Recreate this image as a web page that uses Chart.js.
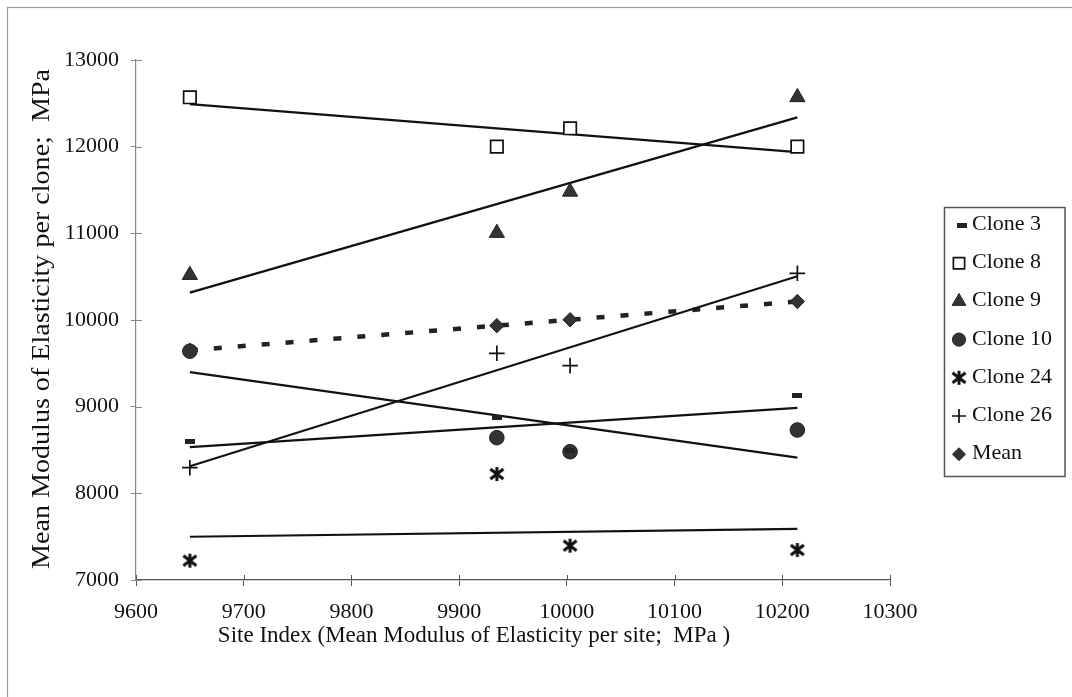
<!DOCTYPE html>
<html>
<head>
<meta charset="utf-8">
<script src="https://cdn.jsdelivr.net/npm/chart.js@4/dist/chart.umd.min.js"></script>
<style>
  body { margin: 0; background: #fff; }
  #wrap { width: 1072px; height: 697px; }
</style>
</head>
<body>
<div id="wrap"><canvas id="chart"></canvas></div>
<script>
// Site index (mean MOE per site, MPa) on the x axis
const siteIndex = [9650, 9935, 10003, 10214];

// Mean MOE per clone at each site, MPa
const clone3 = [8596, 8873, 8500, 9127];
const clone8 = [12570, 12000, 12212, 12000];
const clone9 = [10519, 11004, 11480, 12570];
const clone10 = [9640, 8642, 8480, 8731];
const clone24 = [7223, 8223, 7396, 7346];
const clone26 = [8296, 9616, 9473, 10539];
const meanMoe = [9650, 9935, 10003, 10214];

const xTicks = [9600, 9700, 9800, 9900, 10000, 10100, 10200, 10300];
const yTicks = [7000, 8000, 9000, 10000, 11000, 12000, 13000];

const FONT = '"Liberation Serif", "Times New Roman", serif';

// Small canvas markers for the styles Chart.js doesn't have
function dashMarker() {
    const c = document.createElement('canvas');
    c.width = 10; c.height = 5;
    const g = c.getContext('2d');
    g.fillStyle = '#222';
    g.fillRect(0, 0, 10, 5);
    return c;
}

function asteriskMarker() {
    const c = document.createElement('canvas');
    c.width = 16; c.height = 16;
    const g = c.getContext('2d');
    g.strokeStyle = '#111';
    g.lineWidth = 3;
    g.beginPath();
    g.moveTo(1.5, 3); g.lineTo(14.5, 13);
    g.moveTo(14.5, 3); g.lineTo(1.5, 13);
    g.moveTo(8, 1); g.lineTo(8, 15);
    g.stroke();
    return c;
}

const series = [
    { label: 'Clone 3', ys: clone3, style: dashMarker(), radius: 5, bg: '#222', border: '#222', bw: 0 },
    { label: 'Clone 8', ys: clone8, style: 'rect', radius: 8.8, bg: '#fff', border: '#111', bw: 1.7 },
    { label: 'Clone 9', ys: clone9, style: 'triangle', radius: 8.8, bg: '#333', border: '#222', bw: 1 },
    { label: 'Clone 10', ys: clone10, style: 'circle', radius: 7.3, bg: '#333', border: '#222', bw: 1 },
    { label: 'Clone 24', ys: clone24, style: asteriskMarker(), radius: 8, bg: '#111', border: '#111', bw: 0 },
    { label: 'Clone 26', ys: clone26, style: 'cross', radius: 7.8, bg: '#111', border: '#111', bw: 1.7 },
    { label: 'Mean', ys: meanMoe, style: 'rectRot', radius: 7.2, bg: '#333', border: '#222', bw: 1 }
];

// least squares line over the site range
function linearFit(xs, ys) {
    const n = xs.length;
    const mx = xs.reduce((a, b) => a + b, 0) / n;
    const my = ys.reduce((a, b) => a + b, 0) / n;
    let sxy = 0, sxx = 0;
    for (let i = 0; i < n; i++) {
        sxy += (xs[i] - mx) * (ys[i] - my);
        sxx += (xs[i] - mx) * (xs[i] - mx);
    }
    const slope = sxy / sxx;
    const x0 = Math.min(...xs), x1 = Math.max(...xs);
    return [
        { x: x0, y: my + slope * (x0 - mx) },
        { x: x1, y: my + slope * (x1 - mx) }
    ];
}

// the mean sits underneath the clone markers
const pointSets = series.map(s => ({
    label: s.label,
    data: siteIndex.map((x, i) => ({ x: x, y: s.ys[i] })),
    showLine: false,
    pointStyle: s.style,
    pointRadius: s.radius,
    pointHoverRadius: s.radius,
    pointBackgroundColor: s.bg,
    pointBorderColor: s.border,
    pointBorderWidth: s.bw,
    order: s.label === 'Mean' ? 2 : 1
}));

const trendSets = series.map(s => ({
    label: s.label + ' trend',
    data: linearFit(siteIndex, s.ys),
    showLine: true,
    pointRadius: 0,
    borderColor: s.label === 'Mean' ? '#222' : '#111',
    borderWidth: s.label === 'Mean' ? 4.5 : 2.2,
    borderDash: s.label === 'Mean' ? [8, 16] : [],
    order: 3
}));

// white page, outer frame, crossing ticks, legend box and axis titles
const decorations = {
    id: 'decorations',
    beforeDraw(chart) {
        const ctx = chart.ctx;
        ctx.save();
        ctx.fillStyle = '#fff';
        ctx.fillRect(0, 0, chart.width, chart.height);
        ctx.strokeStyle = '#9a9a9a';
        ctx.lineWidth = 1.2;
        ctx.strokeRect(7.5, 7.5, chart.width + 20, chart.height + 20);
        ctx.restore();
    },
    afterDraw(chart) {
        const ctx = chart.ctx;
        const xs = chart.scales.x, ys = chart.scales.y;
        const area = chart.chartArea;
        ctx.save();

        // inner half of the cross tick marks
        ctx.lineWidth = 1;
        ctx.strokeStyle = '#555';
        xTicks.forEach(v => {
            const px = Math.round(xs.getPixelForValue(v)) + 0.5;
            ctx.beginPath();
            ctx.moveTo(px, area.bottom);
            ctx.lineTo(px, area.bottom - 5);
            ctx.stroke();
        });
        ctx.strokeStyle = '#888';
        yTicks.forEach(v => {
            const py = Math.round(ys.getPixelForValue(v)) + 0.5;
            ctx.beginPath();
            ctx.moveTo(area.left, py);
            ctx.lineTo(area.left + 6, py);
            ctx.stroke();
        });

        // legend
        const lx = 944.5, ly = 207.5, lw = 120.5, lh = 269;
        ctx.fillStyle = '#fff';
        ctx.fillRect(lx, ly, lw, lh);
        ctx.strokeStyle = '#555';
        ctx.lineWidth = 1.5;
        ctx.strokeRect(lx, ly, lw, lh);
        ctx.font = '22px ' + FONT;
        ctx.textAlign = 'left';
        ctx.textBaseline = 'alphabetic';
        series.forEach((s, i) => {
            const base = 230 + i * 38.2;
            const mx = s.label === 'Clone 3' ? 962 : 959;
            ctx.fillStyle = s.bg;
            ctx.strokeStyle = s.border;
            ctx.lineWidth = s.bw;
            if (Chart.helpers && Chart.helpers.drawPoint) {
                Chart.helpers.drawPoint(ctx, {
                    pointStyle: s.style, radius: s.radius * 0.9, rotation: 0, borderWidth: s.bw
                }, mx, base - 5);
            }
            ctx.fillStyle = '#111';
            ctx.fillText(s.label, 972, base);
        });

        // axis titles
        ctx.fillStyle = '#111';
        ctx.font = '23px ' + FONT;
        ctx.textAlign = 'center';
        ctx.textBaseline = 'alphabetic';
        ctx.fillText('Site Index (Mean Modulus of Elasticity per site;  MPa )', 474, 642);

        const yTitle = 'Mean Modulus of Elasticity per clone;  MPa';
        ctx.font = '26px ' + FONT;
        const w = ctx.measureText(yTitle).width;
        ctx.translate(49, 319);
        ctx.rotate(-Math.PI / 2);
        ctx.scale(500 / w, 1);
        ctx.fillText(yTitle, 0, 0);
        ctx.restore();
    }
};

new Chart(document.getElementById('chart'), {
    type: 'scatter',
    data: { datasets: pointSets.concat(trendSets) },
    options: {
        responsive: true,
        maintainAspectRatio: false,
        animation: false,
        layout: { padding: { left: 0, right: 182, top: 60, bottom: 0 } },
        plugins: {
            legend: { display: false },
            tooltip: { enabled: false }
        },
        scales: {
            x: {
                type: 'linear',
                min: xTicks[0],
                max: xTicks[xTicks.length - 1],
                afterBuildTicks: scale => { scale.ticks = xTicks.map(v => ({ value: v })); },
                afterFit: scale => { scale.height = 117; },
                ticks: {
                    color: '#111',
                    font: { family: FONT, size: 22 },
                    padding: 13,
                    maxRotation: 0,
                    callback: v => String(v)
                },
                grid: { drawOnChartArea: false, drawTicks: true, tickLength: 6, color: '#555' },
                border: { color: '#555', width: 1.2 }
            },
            y: {
                type: 'linear',
                min: yTicks[0],
                max: yTicks[yTicks.length - 1],
                afterBuildTicks: scale => { scale.ticks = yTicks.map(v => ({ value: v })); },
                afterFit: scale => { scale.width = 136; },
                ticks: {
                    color: '#111',
                    font: { family: FONT, size: 22 },
                    padding: 12,
                    callback: v => String(v)
                },
                grid: { drawOnChartArea: false, drawTicks: true, tickLength: 5, color: '#888' },
                border: { color: '#888', width: 1.2 }
            }
        }
    },
    plugins: [decorations]
});
</script>
</body>
</html>
